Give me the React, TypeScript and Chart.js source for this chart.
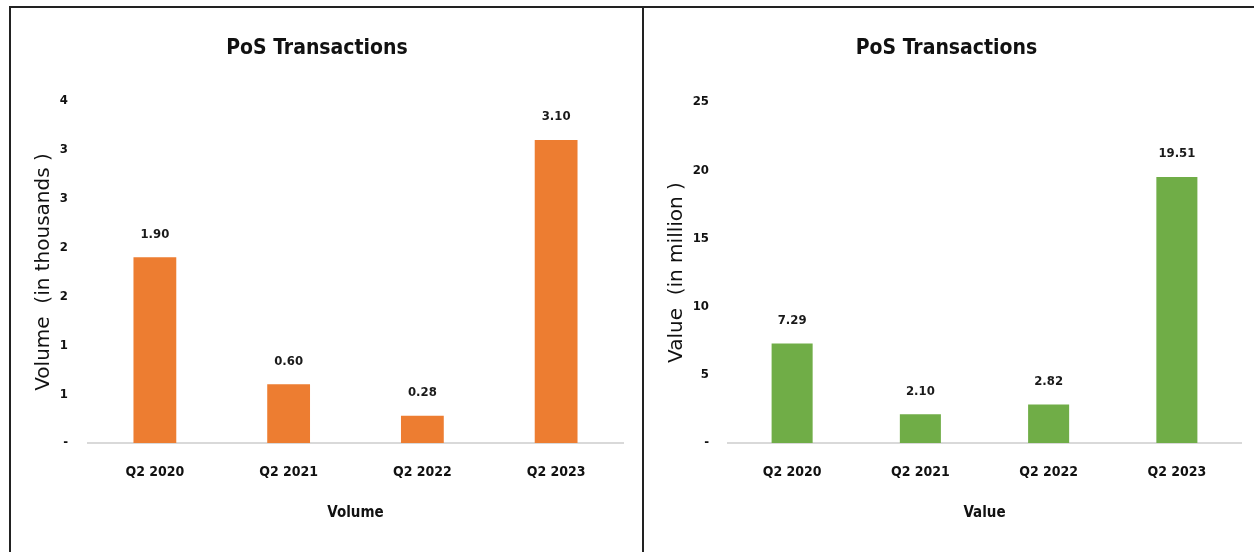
import React, { useEffect, useRef } from "react";
import { Chart, registerables } from "chart.js";

Chart.register(...registerables);

const categories = ["Q2 2020", "Q2 2021", "Q2 2022", "Q2 2023"];
const volumeValues = [1.9, 0.6, 0.28, 3.1];
const valueValues = [7.29, 2.1, 2.82, 19.51];
const volumeTickLabels = ["-", "1", "1", "2", "2", "3", "3", "4"];
const valueTickLabels = ["-", "5", "10", "15", "20", "25"];

const NARROW = "'Liberation Sans Narrow', 'DejaVu Sans Condensed', 'Open Sans', sans-serif";
const WIDE = "'DejaVu Sans', Verdana, sans-serif";

const barValuePlugin = {
  id: "barValues",
  afterDatasetsDraw(chart: any) {
    const ctx = chart.ctx;
    chart.data.datasets.forEach((ds: any, i: number) => {
      const meta = chart.getDatasetMeta(i);
      meta.data.forEach((bar: any, j: number) => {
        const v = ds.data[j] as number;
        ctx.save();
        ctx.font = `bold 13px ${NARROW}`;
        ctx.fillStyle = "#1a1a1a";
        ctx.textAlign = "center";
        ctx.textBaseline = "middle";
        ctx.fillText(v.toFixed(2), bar.x, bar.y - 23);
        ctx.restore();
      });
    });
  },
};

type PanelProps = {
  width: number;
  height: number;
  values: number[];
  color: string;
  yMax: number;
  yStep: number;
  tickLabels: string[];
  yTitle: string;
  xTitle: string;
  padLeft: number;
  padRight: number;
  yAxisWidth: number;
  yTitlePad: number;
  yTickPad: number;
  titlePadBottom: number;
};

function BarPanel(p: PanelProps) {
  const ref = useRef<HTMLCanvasElement | null>(null);
  useEffect(() => {
    if (!ref.current) return;
    const chart = new Chart(ref.current, {
      type: "bar",
      data: {
        labels: categories,
        datasets: [
          {
            data: p.values,
            backgroundColor: p.color,
            borderWidth: 0,
            categoryPercentage: 0.8,
            barPercentage: 0.4,
          },
        ],
      },
      options: {
        responsive: false,
        animation: false,
        devicePixelRatio: 1,
        layout: { padding: { left: p.padLeft, right: p.padRight, top: 0, bottom: 0 } },
        plugins: {
          legend: { display: false },
          tooltip: { enabled: false },
          title: {
            display: true,
            text: "PoS Transactions",
            color: "#111",
            font: { family: NARROW, size: 21, weight: "bold" },
            padding: { top: 28, bottom: p.titlePadBottom },
          },
        },
        scales: {
          x: {
            grid: { display: false, drawTicks: false },
            border: { display: true, color: "#d9d9d9", width: 2 },
            ticks: {
              color: "#111",
              padding: 20.5,
              font: { family: NARROW, size: 14, weight: "bold" },
            },
            title: {
              display: true,
              text: p.xTitle,
              color: "#111",
              font: { family: NARROW, size: 15, weight: "bold" },
              padding: { top: 0, bottom: 30 },
            },
            afterFit: (s: any) => {
              s.height = 109;
            },
          },
          y: {
            min: 0,
            max: p.yMax,
            grid: { display: false, drawTicks: false },
            border: { display: false },
            ticks: {
              stepSize: p.yStep,
              color: "#111",
              padding: p.yTickPad,
              font: { family: NARROW, size: 13, weight: "bold" },
              callback: (_v: any, i: number) => p.tickLabels[i],
            },
            title: {
              display: true,
              text: p.yTitle,
              color: "#111",
              font: { family: WIDE, size: 20, weight: "normal" },
              padding: { top: p.yTitlePad, bottom: 0 },
            },
            afterFit: (s: any) => {
              s.width = p.yAxisWidth;
            },
          },
        },
      },
      plugins: [barValuePlugin],
    } as any);
    return () => chart.destroy();
  }, []);
  return <canvas ref={ref} width={p.width} height={p.height} style={{ display: "block", width: p.width, height: p.height }} />;
}

export default function App() {
  return (
    <div
      style={{
        position: "absolute",
        left: 9,
        top: 6,
        width: 1245,
        height: 546,
        boxSizing: "border-box",
        borderTop: "2px solid #222",
        borderLeft: "2px solid #222",
        background: "#fff",
      }}
    >
      <div style={{ position: "absolute", left: 0, top: 0 }}>
        <BarPanel
          width={631}
          height={544}
          values={volumeValues}
          color="#ed7d31"
          yMax={3.5}
          yStep={0.5}
          tickLabels={volumeTickLabels}
          yTitle="Volume  (in thousands )"
          xTitle="Volume"
          padLeft={0}
          padRight={19}
          yAxisWidth={77}
          yTitlePad={21}
          yTickPad={20}
          titlePadBottom={39.8}
        />
      </div>
      <div style={{ position: "absolute", left: 631, top: 0, width: 2, height: 544, background: "#222" }} />
      <div style={{ position: "absolute", left: 633, top: 0 }}>
        <BarPanel
          width={610}
          height={544}
          values={valueValues}
          color="#70ad47"
          yMax={25}
          yStep={5}
          tickLabels={valueTickLabels}
          yTitle="Value  (in million )"
          xTitle="Value"
          padLeft={8}
          padRight={13}
          yAxisWidth={76}
          yTitlePad={13}
          yTickPad={19}
          titlePadBottom={40.8}
        />
      </div>
    </div>
  );
}
